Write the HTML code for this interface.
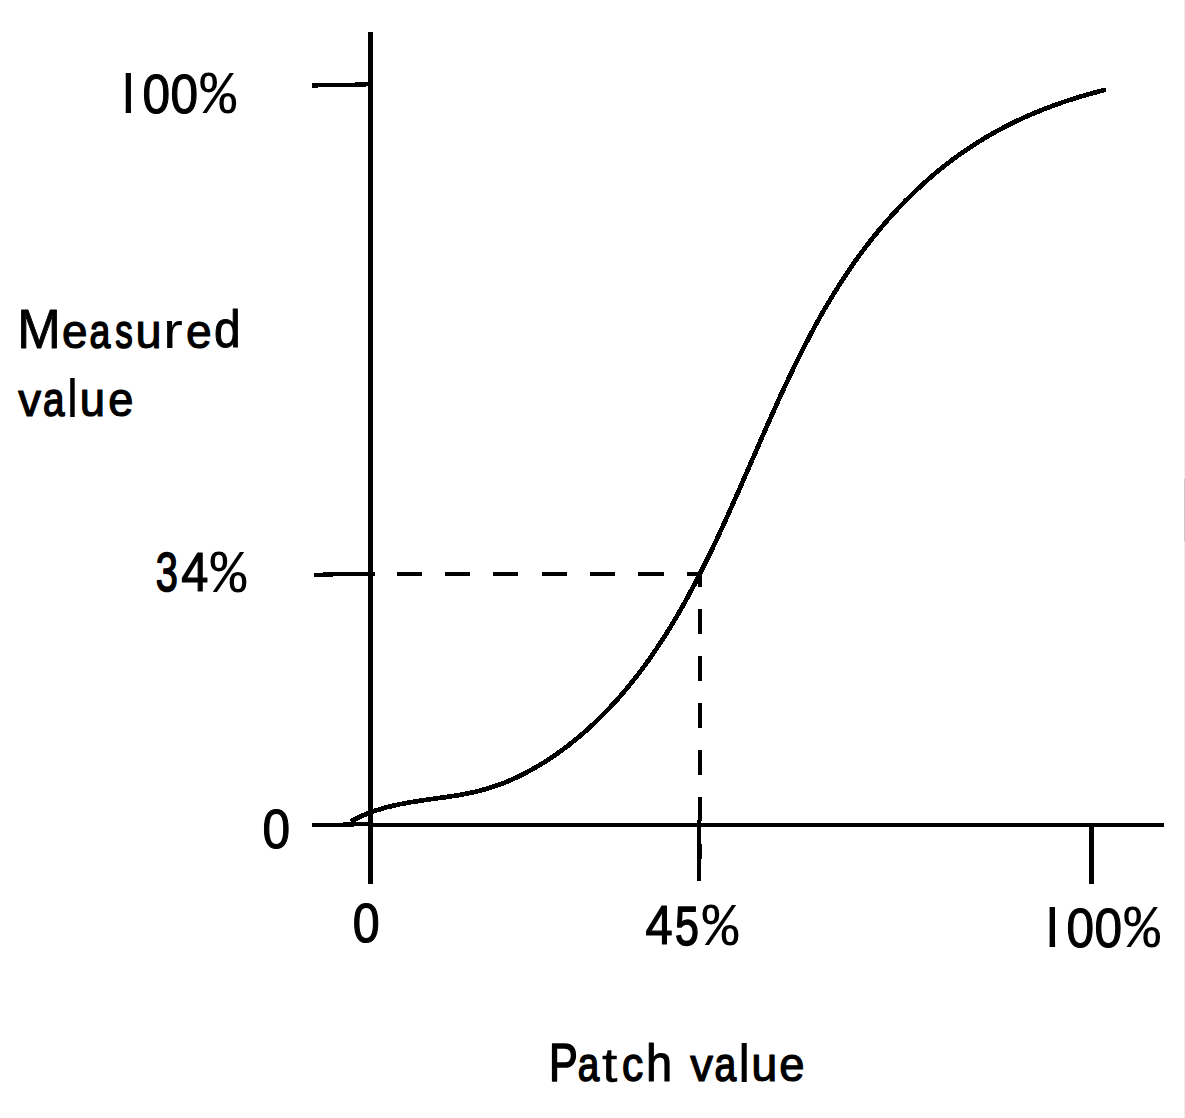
<!DOCTYPE html>
<html><head><meta charset="utf-8"><title>Patch value vs measured value</title>
<style>
html,body{margin:0;padding:0;background:#fff}
body{width:1185px;height:1118px;overflow:hidden}
svg{display:block}
text{font-family:"Liberation Sans",sans-serif;font-size:100px;fill:#000;stroke-linejoin:round}
text.m{font-family:"Liberation Mono",monospace}
</style></head><body>
<svg width="1185" height="1118" viewBox="0 0 1185 1118">
<defs><clipPath id="stem"><rect x="25.88" y="-80" width="8.11" height="90"/></clipPath></defs>
<g fill="#000" shape-rendering="crispEdges">
<rect x="368" y="32" width="5" height="852"/>
<rect x="312" y="823" width="42" height="4"/>
<rect x="343" y="822" width="25" height="4"/>
<rect x="368" y="823" width="796" height="4"/>
<rect x="1089" y="827" width="5" height="57"/>
<rect x="697" y="820" width="4" height="61"/>
<polygon points="312,83 355,83 355,82 368,82 368,86 366,86 366,87 318,87 318,88 312,88"/>
<polygon points="314,573 323,573 323,572 375,572 375,576 333,576 333,577 314,577"/>
<rect x="397" y="572" width="25" height="4"/><rect x="445" y="572" width="25" height="4"/><rect x="493" y="572" width="25" height="4"/><rect x="542" y="572" width="25" height="4"/><rect x="590" y="572" width="25" height="4"/><rect x="638" y="572" width="26" height="4"/><rect x="687" y="572" width="15" height="4"/>
<rect x="698" y="572" width="4" height="15"/><rect x="698" y="609" width="4" height="25"/><rect x="698" y="656" width="4" height="25"/><rect x="698" y="703" width="4" height="25"/><rect x="698" y="750" width="4" height="25"/><rect x="698" y="797" width="4" height="24"/><rect x="698" y="844" width="4" height="15"/>
</g>
<path transform="translate(0.4 0.4)" d="M350.4 821.0 C358.1 816.6 366.1 813.2 374.2 810.5 C382.4 807.7 390.7 805.6 399.1 803.9 C407.5 802.2 416.0 800.8 424.6 799.6 C433.1 798.4 441.7 797.3 450.3 796.0 C458.8 794.7 467.4 793.2 475.7 791.2 C484.1 789.3 492.3 786.8 500.4 783.8 C508.4 780.7 516.3 777.1 523.9 773.2 C531.6 769.3 539.0 765.0 546.3 760.3 C553.5 755.7 560.5 750.7 567.4 745.5 C574.2 740.2 580.8 734.7 587.3 728.9 C593.7 723.2 599.9 717.2 605.9 710.9 C612.0 704.7 617.8 698.3 623.4 691.7 C629.0 685.1 634.4 678.3 639.6 671.5 C644.8 664.6 649.9 657.6 654.7 650.5 C659.5 643.3 664.2 636.1 668.7 628.8 C673.2 621.5 677.6 614.1 681.8 606.6 C686.0 599.1 690.1 591.5 694.1 583.9 C698.1 576.2 702.0 568.6 705.8 560.8 C709.6 553.1 713.4 545.3 717.0 537.5 C720.7 529.7 724.2 521.9 727.8 514.0 C731.3 506.2 734.8 498.3 738.3 490.4 C741.8 482.5 745.2 474.5 748.7 466.6 C752.1 458.7 755.5 450.8 759.0 442.9 C762.4 435.0 765.9 427.1 769.4 419.2 C772.9 411.3 776.5 403.4 780.0 395.6 C783.6 387.8 787.3 379.9 791.0 372.2 C794.7 364.4 798.5 356.7 802.4 349.0 C806.3 341.3 810.3 333.7 814.4 326.1 C818.5 318.6 822.8 311.1 827.1 303.7 C831.5 296.2 836.0 288.9 840.7 281.7 C845.3 274.4 850.2 267.3 855.2 260.2 C860.2 253.2 865.4 246.3 870.7 239.5 C876.1 232.7 881.6 226.1 887.3 219.6 C893.0 213.1 898.9 206.8 904.9 200.6 C911.0 194.5 917.2 188.5 923.6 182.7 C930.0 177.0 936.5 171.4 943.3 166.0 C950.0 160.7 956.9 155.6 964.0 150.7 C971.1 145.8 978.3 141.2 985.8 136.8 C993.2 132.4 1000.8 128.3 1008.5 124.4 C1016.2 120.5 1024.1 116.9 1032.0 113.5 C1040.0 110.1 1048.0 106.9 1056.2 104.0 C1064.3 101.1 1072.5 98.4 1080.7 96.0 C1088.9 93.5 1097.2 91.3 1105.5 89.3" fill="none" stroke="#000" stroke-width="4.7" stroke-linecap="butt" stroke-linejoin="round" shape-rendering="crispEdges"/>
<rect x="1184" y="0" width="1" height="1118" fill="#ededed" shape-rendering="crispEdges"/>
<rect x="1184" y="479" width="1" height="62" fill="#c8c8c8" shape-rendering="crispEdges"/>
<g><text transform="matrix(0.6539 0 0 0.5654 108.78 113.00)" clip-path="url(#stem)">1</text><text transform="matrix(0.4960 0 0 0.5580 142.41 112.61)" stroke="#000" stroke-width="1.09" vector-effect="non-scaling-stroke">0</text><text transform="matrix(0.4960 0 0 0.5580 170.51 112.61)" stroke="#000" stroke-width="1.09" vector-effect="non-scaling-stroke">0</text><text transform="matrix(0.5977 0 0 0.6056 200.20 113.35)" class="m">%</text></g>
<g><text transform="matrix(0.5229 0 0 0.5535 17.37 347.54)" stroke="#000" stroke-width="0.92" vector-effect="non-scaling-stroke">M</text><text transform="matrix(0.4595 0 0 0.4867 62.12 347.66)" stroke="#000" stroke-width="1.14" vector-effect="non-scaling-stroke">e</text><text transform="matrix(0.3748 0 0 0.4810 89.43 347.51)" stroke="#000" stroke-width="1.45" vector-effect="non-scaling-stroke">a</text><text transform="matrix(0.3497 0 0 0.4823 115.35 347.50)" stroke="#000" stroke-width="1.45" vector-effect="non-scaling-stroke">s</text><text transform="matrix(0.4693 0 0 0.4802 135.38 347.50)" stroke="#000" stroke-width="1.06" vector-effect="non-scaling-stroke">u</text><text transform="matrix(0.5953 0 0 0.4977 163.01 347.94)" stroke="#000" stroke-width="0.12" vector-effect="non-scaling-stroke">r</text><text transform="matrix(0.4621 0 0 0.4870 186.00 347.67)" stroke="#000" stroke-width="1.12" vector-effect="non-scaling-stroke">e</text><text transform="matrix(0.4781 0 0 0.5216 213.99 347.49)" stroke="#000" stroke-width="1.00" vector-effect="non-scaling-stroke">d</text></g>
<g><text transform="matrix(0.4571 0 0 0.4703 18.22 416.32)" stroke="#000" stroke-width="1.16" vector-effect="non-scaling-stroke">v</text><text transform="matrix(0.3864 0 0 0.4810 42.88 416.31)" stroke="#000" stroke-width="1.45" vector-effect="non-scaling-stroke">a</text><text transform="matrix(0.5120 0 0 0.5327 66.65 416.80)">l</text><text transform="matrix(0.4550 0 0 0.4782 79.83 416.25)" stroke="#000" stroke-width="1.17" vector-effect="non-scaling-stroke">u</text><text transform="matrix(0.4519 0 0 0.4856 108.28 416.43)" stroke="#000" stroke-width="1.19" vector-effect="non-scaling-stroke">e</text></g>
<g><text transform="matrix(0.3976 0 0 0.5530 155.71 591.44)" stroke="#000" stroke-width="1.45" vector-effect="non-scaling-stroke">3</text><text transform="matrix(0.4872 0 0 0.5487 181.36 591.43)" stroke="#000" stroke-width="1.15" vector-effect="non-scaling-stroke">4</text><text transform="matrix(0.5977 0 0 0.6056 210.50 592.35)" class="m">%</text></g>
<g><text transform="matrix(0.4960 0 0 0.5580 262.51 847.51)" stroke="#000" stroke-width="1.09" vector-effect="non-scaling-stroke">0</text></g>
<g><text transform="matrix(0.4839 0 0 0.5569 352.79 942.47)" stroke="#000" stroke-width="1.17" vector-effect="non-scaling-stroke">0</text></g>
<g><text transform="matrix(0.4872 0 0 0.5487 645.46 944.43)" stroke="#000" stroke-width="1.15" vector-effect="non-scaling-stroke">4</text><text transform="matrix(0.4292 0 0 0.5468 674.91 944.54)" stroke="#000" stroke-width="1.45" vector-effect="non-scaling-stroke">5</text><text transform="matrix(0.5977 0 0 0.6056 702.40 945.35)" class="m">%</text></g>
<g><text transform="matrix(0.6786 0 0 0.5654 1032.04 947.00)" clip-path="url(#stem)">1</text><text transform="matrix(0.4960 0 0 0.5580 1066.41 946.61)" stroke="#000" stroke-width="1.09" vector-effect="non-scaling-stroke">0</text><text transform="matrix(0.4960 0 0 0.5580 1094.51 946.61)" stroke="#000" stroke-width="1.09" vector-effect="non-scaling-stroke">0</text><text transform="matrix(0.5961 0 0 0.6056 1124.30 947.35)" class="m">%</text></g>
<g><text transform="matrix(0.4312 0 0 0.5458 549.09 1080.98)" stroke="#000" stroke-width="1.45" vector-effect="non-scaling-stroke">P</text><text transform="matrix(0.3864 0 0 0.4810 577.78 1081.21)" stroke="#000" stroke-width="1.45" vector-effect="non-scaling-stroke">a</text><text transform="matrix(0.5555 0 0 0.4797 602.07 1081.82)" stroke="#000" stroke-width="0.42" vector-effect="non-scaling-stroke">t</text><text transform="matrix(0.4244 0 0 0.4819 621.90 1081.23)" stroke="#000" stroke-width="1.40" vector-effect="non-scaling-stroke">c</text><text transform="matrix(0.4704 0 0 0.5181 646.07 1081.17)" stroke="#000" stroke-width="1.06" vector-effect="non-scaling-stroke">h</text> <text transform="matrix(0.4548 0 0 0.4699 690.23 1081.21)" stroke="#000" stroke-width="1.17" vector-effect="non-scaling-stroke">v</text><text transform="matrix(0.3903 0 0 0.4810 714.57 1081.21)" stroke="#000" stroke-width="1.45" vector-effect="non-scaling-stroke">a</text><text transform="matrix(0.5803 0 0 0.5327 737.79 1081.70)">l</text><text transform="matrix(0.4693 0 0 0.4802 751.28 1081.20)" stroke="#000" stroke-width="1.06" vector-effect="non-scaling-stroke">u</text><text transform="matrix(0.4545 0 0 0.4860 779.36 1081.34)" stroke="#000" stroke-width="1.18" vector-effect="non-scaling-stroke">e</text></g>
</svg>
</body></html>
